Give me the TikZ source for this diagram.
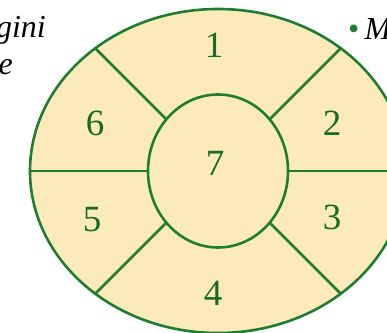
\documentclass[tikz,border=0pt]{standalone}
\usepackage{fontspec}
\setmainfont{Liberation Serif}
\usepackage{xcolor}
\usepackage{tikz}
\usetikzlibrary{positioning, shapes.geometric}

\definecolor{ringgreen}{RGB}{30,125,48}
\definecolor{ringfill}{RGB}{253,234,186}

\begin{document}
\begin{tikzpicture}[x=1pt, y=1pt,
    ring/.style={ellipse, draw=ringgreen, fill=ringfill, line width=2.6pt, inner sep=0pt, outer sep=0pt},
    divider/.style={draw=ringgreen, line width=2.6pt},
    digit/.style={text=ringgreen!85!black, font=\fontsize{37}{37}\selectfont},
    side/.style={font=\fontsize{32}{32}\selectfont\itshape}]
        \useasboundingbox (0,0) rectangle (387,332);
        \clip (0,0) rectangle (387,332);

        % rings
        \node[ring, minimum width=376pt, minimum height=324pt] (outer) at (218,161) {};
        \node[ring, minimum width=140pt, minimum height=153pt] (inner) at (218,161) {};

        % spokes
        \foreach \a in {45,135,225,315} {
          \draw[divider] (inner.\a) -- (outer.\a);
        }
        \draw[divider] (outer.180) -- (inner.180);
        \draw[divider] (inner.0) -- (outer.0);

        % sector numbers
        \foreach \n/\x/\y in {1/214/287, 2/332/209, 3/332/115, 4/213/39, 5/92/112, 6/95/209, 7/215/169} {
          \node[digit] (num\n) at (\x,\y) {\n};
        }

        % cut-off captions
        \node[side, anchor=base east, inner sep=0pt] (capgini) at (46,294) {gini};
        \node[side, anchor=base east, inner sep=0pt] (cape) at (13,257) {e};
        \node[side, anchor=base west, inner sep=0pt] (capm) at (348,292) {\textcolor{ringgreen}{\upshape\textbullet}\,M};
      \end{tikzpicture}
\end{document}
